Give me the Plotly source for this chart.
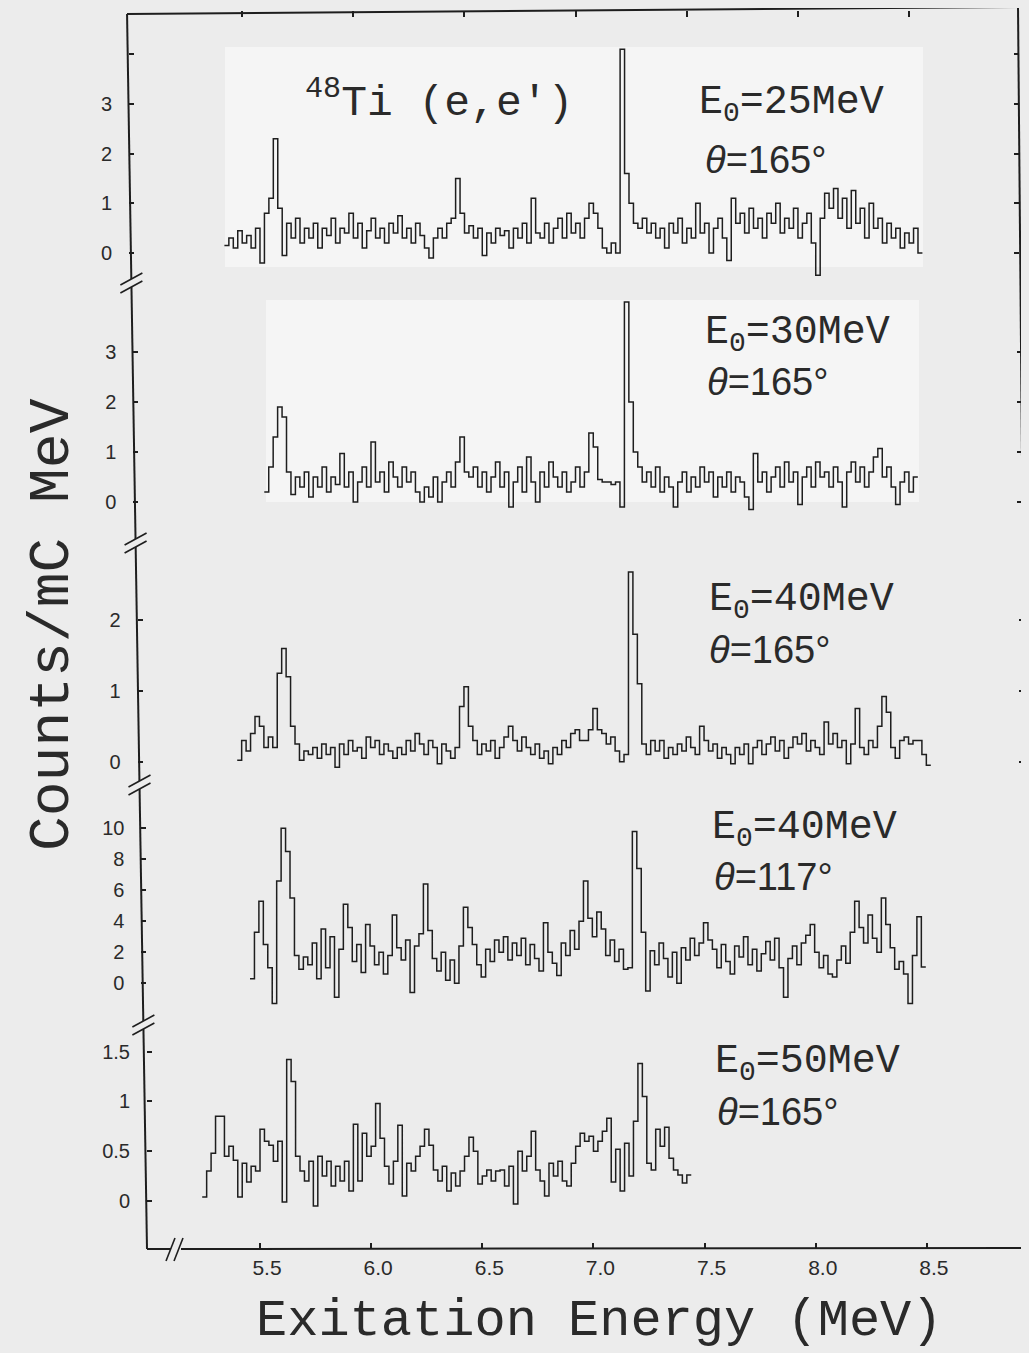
import plotly.graph_objects as go

# ------------------------------------------------------------------
# DATA  (48Ti(e,e') spectra, counts / mC MeV, bins of 0.02 MeV)
# ------------------------------------------------------------------
bin_width = 0.02

x_tick_vals = [5.5, 6.0, 6.5, 7.0, 7.5, 8.0, 8.5]
x_tick_text = ["5.5", "6.0", "6.5", "7.0", "7.5", "8.0", "8.5"]

start_25 = 5.42
counts_25 = [
    0.15, 0.3, 0.1, 0.45, 0.2, 0.35, 0.1, 0.5, -0.2, 0.8,
    1.1, 2.3, 0.9, -0.05, 0.6, 0.3, 0.7, 0.2, 0.5, 0.3,
    0.6, 0.1, 0.5, 0.35, 0.7, 0.2, 0.5, 0.4, 0.8, 0.3,
    0.6, 0.1, 0.45, 0.7, 0.3, 0.5, 0.2, 0.6, 0.4, 0.75,
    0.3, 0.5, 0.2, 0.6, 0.35, 0.1, -0.1, 0.3, 0.5, 0.3,
    0.6, 0.7, 1.5, 0.8, 0.4, 0.55, 0.3, 0.5, -0.05, 0.4,
    0.2, 0.5, 0.35, 0.45, 0.1, 0.5, 0.3, 0.6, 0.2, 1.1,
    0.4, 0.3, 0.6, 0.2, 0.5, 0.7, 0.3, 0.8, 0.4, 0.6,
    0.3, 0.7, 1.0, 0.8, 0.5, 0.1, 0.0, 0.2, 0.0, 4.1,
    1.6, 1.0, 0.6, 0.5, 0.7, 0.4, 0.6, 0.3, 0.5, 0.1,
    0.6, 0.4, 0.7, 0.2, 0.5, 0.3, 1.0, 0.4, 0.6, 0.0,
    0.5, 0.7, 0.3, -0.15, 1.1, 0.6, 0.8, 0.4, 0.9, 0.5,
    0.7, 0.3, 0.8, 0.6, 1.0, 0.4, 0.7, 0.5, 0.9, 0.3,
    0.6, 0.8, 0.2, -0.45, 0.7, 1.2, 0.9, 1.3, 0.7, 1.1,
    0.5, 1.26, 0.6, 0.9, 0.3, 1.0, 0.5, 0.7, 0.2, 0.6,
    0.3, 0.5, 0.1, 0.4, 0.2, 0.5, 0.0,
]

start_30 = 5.58
counts_30 = [
    0.2, 0.7, 1.3, 1.9, 1.7, 0.6, 0.15, 0.5, 0.3, 0.6,
    0.1, 0.5, 0.3, 0.7, 0.2, 0.5, 0.35, 0.97, 0.3, 0.6,
    0.0, 0.4, 0.7, 0.3, 1.2, 0.4, 0.6, 0.2, 0.8, 0.5,
    0.3, 0.7, 0.4, 0.6, 0.2, 0.0, 0.3, 0.1, 0.5, 0.0,
    0.4, 0.6, 0.3, 0.8, 1.3, 0.6, 0.5, 0.7, 0.3, 0.6,
    0.2, 0.5, 0.8, 0.3, 0.6, -0.1, 0.4, 0.7, 0.2, 0.9,
    0.4, 0.0, 0.6, 0.3, 0.8, 0.5, 0.3, 0.6, 0.2, 0.4,
    0.7, 0.3, 0.6, 1.38, 1.1, 0.45, 0.4, 0.4, 0.35, 0.4,
    -0.1, 4.0, 2.0, 1.0, 0.7, 0.4, 0.6, 0.3, 0.7, 0.2,
    0.5, 0.3, -0.1, 0.4, 0.6, 0.2, 0.5, 0.3, 0.7, 0.4,
    0.6, 0.1, 0.5, 0.3, 0.6, 0.2, 0.5, 0.4, 0.1, -0.15,
    0.97, 0.4, 0.6, 0.2, 0.5, 0.7, 0.3, 0.8, 0.4, 0.6,
    -0.05, 0.5, 0.7, 0.3, 0.8, 0.5, 0.6, 0.3, 0.7, 0.4,
    -0.1, 0.6, 0.8, 0.4, 0.7, 0.3, 0.6, 0.9, 1.07, 0.5,
    0.7, 0.3, -0.05, 0.4, 0.6, 0.2, 0.5,
]

start_40a = 5.44
counts_40a = [
    0.02, 0.3, 0.15, 0.4, 0.64, 0.5, 0.2, 0.35, 0.2, 1.25,
    1.6, 1.2, 0.5, 0.25, 0.02, 0.15, 0.1, 0.2, 0.05, 0.25,
    0.1, 0.2, -0.08, 0.25, 0.1, 0.3, 0.15, 0.2, 0.05, 0.35,
    0.2, 0.3, 0.1, 0.25, 0.15, 0.05, 0.2, 0.1, 0.3, 0.15,
    0.4, 0.25, 0.1, 0.3, 0.2, -0.03, 0.25, 0.15, 0.05, 0.2,
    0.78, 1.06, 0.5, 0.3, 0.1, 0.25, 0.15, 0.3, 0.05, 0.2,
    0.35, 0.5, 0.3, 0.15, 0.35, 0.2, 0.1, 0.25, 0.05, 0.15,
    -0.03, 0.2, 0.1, 0.3, 0.2, 0.4, 0.45, 0.3, 0.3, 0.45,
    0.75, 0.45, 0.4, 0.25, 0.35, 0.15, 0.0, 0.1, 2.68, 1.8,
    1.1, 0.25, 0.1, 0.3, 0.15, 0.3, 0.05, 0.2, 0.1, 0.25,
    0.15, 0.35, 0.2, 0.1, 0.5, 0.3, 0.15, 0.25, 0.05, 0.2,
    0.1, -0.03, 0.2, 0.1, 0.25, -0.03, 0.2, 0.3, 0.1, 0.25,
    0.35, 0.15, 0.3, 0.05, 0.2, 0.35, 0.25, 0.4, 0.15, 0.3,
    0.2, 0.1, 0.56, 0.25, 0.4, 0.2, 0.3, -0.03, 0.25, 0.75,
    0.2, 0.1, 0.3, 0.2, 0.5, 0.92, 0.7, 0.2, 0.05, 0.3,
    0.35, 0.25, 0.3, 0.3, 0.1, -0.05,
]

start_40b = 5.48
counts_40b = [
    0.3, 3.3, 5.3, 2.5, 1.0, -1.3, 6.6, 10.0, 8.5, 5.5,
    1.8, 0.9, 1.7, 1.2, 2.6, 0.3, 3.5, 1.0, 3.0, -0.9,
    2.2, 5.1, 3.6, 1.4, 2.5, 0.7, 3.8, 2.4, 1.2, 2.0,
    0.6, 1.8, 4.4, 2.3, 1.5, 2.8, -0.6, 2.4, 3.2, 6.4,
    3.4, 1.6, 0.8, 2.0, 0.2, 1.5, 0.0, 2.4, 4.9, 3.6,
    2.5, 1.2, 0.4, 2.2, 1.4, 2.8, 2.0, 3.0, 1.5, 2.6,
    1.8, 2.9, 1.2, 2.5, 1.6, 0.8, 3.9, 2.0, 1.3, 0.5,
    2.6, 1.8, 3.4, 2.2, 4.0, 6.6, 4.2, 3.0, 4.6, 3.5,
    1.8, 2.8, 1.4, 2.2, 0.9, 1.0, 9.8, 7.4, 3.3, -0.5,
    2.1, 1.2, 2.6, 1.6, 0.4, 2.0, 0.0, 2.3, 1.5, 2.9,
    1.8, 2.6, 3.9, 2.8, 2.2, 1.0, 2.5, 1.4, 0.6, 2.4,
    1.7, 3.0, 1.2, 2.2, 0.8, 1.9, 2.7, 1.5, 2.9, 1.0,
    -0.9, 1.6, 2.4, 1.2, 2.6, 3.1, 3.8, 2.0, 1.0, 1.8,
    0.6, 0.4, 1.5, 2.4, 1.3, 3.3, 5.3, 3.6, 2.6, 4.4,
    2.9, 2.0, 5.5, 3.8, 2.3, 0.9, 1.4, 0.6, -1.3, 1.8,
    4.3, 1.05,
]

start_50 = 5.24
counts_50 = [
    0.04, 0.3, 0.48, 0.85, 0.85, 0.45, 0.55, 0.41, 0.04, 0.38,
    0.19, 0.35, 0.3, 0.72, 0.6, 0.56, 0.4, 0.6, -0.01, 1.42,
    1.2, 0.45, 0.3, 0.2, 0.4, -0.05, 0.45, 0.25, 0.4, 0.15,
    0.35, 0.2, 0.4, 0.1, 0.77, 0.2, 0.68, 0.45, 0.55, 0.98,
    0.63, 0.35, 0.17, 0.4, 0.76, 0.05, 0.38, 0.3, 0.45, 0.55,
    0.72, 0.56, 0.31, 0.2, 0.35, 0.1, 0.28, 0.15, 0.3, 0.45,
    0.64, 0.5, 0.17, 0.25, 0.31, 0.2, 0.3, 0.31, 0.15, 0.35,
    -0.03, 0.5, 0.3, 0.45, 0.7, 0.31, 0.2, 0.05, 0.38, 0.25,
    0.4, 0.2, 0.15, 0.38, 0.55, 0.68, 0.6, 0.65, 0.5, 0.6,
    0.7, 0.83, 0.19, 0.52, 0.1, 0.58, 0.25, 0.8, 1.38, 1.05,
    0.38, 0.31, 0.72, 0.55, 0.74, 0.43, 0.31, 0.26, 0.18, 0.26,
]

beam_labels = ["E<sub>0</sub>=25MeV", "E<sub>0</sub>=30MeV", "E<sub>0</sub>=40MeV",
               "E<sub>0</sub>=40MeV", "E<sub>0</sub>=50MeV"]
angle_labels = ["<i>θ</i>=165°", "<i>θ</i>=165°", "<i>θ</i>=165°",
                "<i>θ</i>=117°", "<i>θ</i>=165°"]

y_ticks_25 = [0, 1, 2, 3, 4]
y_text_25 = ["0", "1", "2", "3", ""]
y_ticks_30 = [0, 1, 2, 3]
y_text_30 = ["0", "1", "2", "3"]
y_ticks_40a = [0, 1, 2]
y_text_40a = ["0", "1", "2"]
y_ticks_40b = [0, 2, 4, 6, 8, 10]
y_text_40b = ["0", "2", "4", "6", "8", "10"]
y_ticks_50 = [0, 0.5, 1, 1.5]
y_text_50 = ["0", "0.5", "1", "1.5"]

# ------------------------------------------------------------------
# LAYOUT GEOMETRY (pixel coordinates of the 1029 x 1353 page)
# The page body has an 8 px margin, so the figure starts at (8, 8).
# ------------------------------------------------------------------
PAGE_W, PAGE_H = 1029, 1353
BODY = 8
FIG_W, FIG_H = PAGE_W - BODY, PAGE_H - BODY
PLOT_L, PLOT_T, PLOT_R, PLOT_B = 127, 10, 1029, 1249   # page pixels
ML = PLOT_L - BODY
MT = PLOT_T - BODY
MR = FIG_W + BODY - PLOT_R
MB = FIG_H + BODY - PLOT_B
PW = PLOT_R - PLOT_L
PH = PLOT_B - PLOT_T
AX_Y = PLOT_B

BG = "#ececec"
INK = "#1e1e1e"
TXT = "#2a2a2a"
MONO = "Liberation Mono"
SANS = "Liberation Sans"


def fx(px):
    return (px - PLOT_L) / PW


def fy(py):
    return (AX_Y - py) / PH


def left_x(py):   # the scanned frame is slightly skewed
    return 127 + 20 * (py - 11) / 1238


def right_x(py):
    return 1018 + 11 * (py - 8) / 1241


PX_PER_MEV = 222.3
X_LEFT = 5.5 - 113 / PX_PER_MEV

# panel: data, start, top px, bottom px, zero px, px per unit, ticks, tick text,
#        x-mapping ref px, label x/y (beam), label x/y (angle)
panels = [
    (counts_25, start_25, 11, 283, 253.0, 49.7, y_ticks_25, y_text_25, 147, (697, 104), (703, 160)),
    (counts_30, start_30, 283, 543, 502.0, 50.0, y_ticks_30, y_text_30, 413, (703, 335), (705, 382)),
    (counts_40a, start_40a, 543, 785, 761.7, 70.8, y_ticks_40a, y_text_40a, 664, (707, 601), (707, 650)),
    (counts_40b, start_40b, 785, 1025, 983.3, 15.5, y_ticks_40b, y_text_40b, 905, (710, 829), (712, 877)),
    (counts_50, start_50, 1025, 1249, 1201.0, 99.6, y_ticks_50, y_text_50, 1249, (713, 1063), (715, 1112)),
]

fig = go.Figure()
layout_axes = {}
annotations = []

for i, (vals, start, top, bot, zero, ppu, tv, tt, yref_px, lab1, lab2) in enumerate(panels, start=1):
    xs = [round(start + bin_width * k, 4) for k in range(len(vals) + 1)]
    ys = list(vals) + [vals[-1]]
    fig.add_trace(go.Scatter(
        x=xs, y=ys, mode="lines",
        line=dict(shape="hv", color=INK, width=1.5),
        xaxis=f"x{i}", yaxis=f"y{i}", showlegend=False, hoverinfo="skip",
    ))

    L = left_x(yref_px)
    R = right_x(yref_px)
    xa = dict(
        domain=[max(0.0, fx(L)), min(1.0, fx(R))],
        range=[X_LEFT, 5.5 + (R - L - 113) / PX_PER_MEV],
        anchor=f"y{i}", showgrid=False, zeroline=False, showline=False,
        showticklabels=False, ticks="",
    )
    if i == 1:
        xa.update(side="top", ticks="inside", ticklen=6, tickwidth=1.5,
                  tickcolor=INK, tickvals=x_tick_vals)
    if i == 5:
        xa.update(ticks="inside", ticklen=6, tickwidth=1.5, tickcolor=INK,
                  tickvals=x_tick_vals, ticktext=x_tick_text, showticklabels=True,
                  tickfont=dict(family=SANS, size=21, color=TXT),
                  ticklabelshift=7, ticklabelstandoff=4)
    layout_axes[f"xaxis{i}"] = xa

    layout_axes[f"yaxis{i}"] = dict(
        domain=[fy(bot), fy(top)],
        range=[(zero - bot) / ppu, (zero - top) / ppu],
        anchor=f"x{i}", showgrid=False, zeroline=False, showline=False,
        ticks="inside", ticklen=5, tickwidth=1.5, tickcolor=INK, mirror="ticks",
        tickvals=tv, ticktext=tt,
        tickfont=dict(family=SANS, size=20, color=TXT),
        ticklabelstandoff=16,
    )

    annotations.append(dict(
        text=beam_labels[i - 1], xref="paper", yref="paper",
        x=fx(lab1[0]), y=fy(lab1[1]), xanchor="left", yanchor="middle",
        showarrow=False, font=dict(family=MONO, size=40, color=TXT),
    ))
    annotations.append(dict(
        text=angle_labels[i - 1], xref="paper", yref="paper",
        x=fx(lab2[0]), y=fy(lab2[1]), xanchor="left", yanchor="middle",
        showarrow=False, font=dict(family=SANS, size=38, color=TXT),
    ))

# title and axis titles
annotations.append(dict(
    text="<sup>48</sup>Ti (e,e')", xref="paper", yref="paper",
    x=fx(303), y=fy(100), xanchor="left", yanchor="middle", showarrow=False,
    font=dict(family=MONO, size=43, color=TXT),
))
annotations.append(dict(
    text="Counts/mC MeV", xref="paper", yref="paper", textangle=-90,
    x=fx(52), y=fy(625), xanchor="center", yanchor="middle", showarrow=False,
    font=dict(family=MONO, size=58, color=TXT),
))
annotations.append(dict(
    text="Exitation Energy (MeV)", xref="paper", yref="paper",
    x=fx(599), y=fy(1321), xanchor="center", yanchor="middle", showarrow=False,
    font=dict(family=MONO, size=52, color=TXT),
))

# ------------------------------------------------------------------
# FRAME with axis breaks
# ------------------------------------------------------------------
shapes = []


def seg(x0, y0, x1, y1, w=2.0):
    shapes.append(dict(type="line", xref="paper", yref="paper",
                       x0=fx(x0), y0=fy(y0), x1=fx(x1), y1=fy(y1),
                       line=dict(color=INK, width=w)))


# lighter pasted-in patches of the scan
for (a, b, c, d) in [(225, 47, 923, 267), (266, 300, 919, 502)]:
    shapes.append(dict(type="rect", xref="paper", yref="paper", layer="below",
                       x0=fx(a), y0=fy(b), x1=fx(c), y1=fy(d),
                       fillcolor="#f5f5f5", line=dict(width=0)))

breaks = [283, 543, 785, 1025]
ys_edges = [14]
for b in breaks:
    ys_edges += [b - 4, b + 4]
ys_edges.append(AX_Y)
for k in range(0, len(ys_edges), 2):
    y0, y1 = ys_edges[k], ys_edges[k + 1]
    seg(left_x(y0), y0, left_x(y1), y1)
for b in breaks:
    xc = left_x(b)
    for off in (-4, 4):
        seg(xc - 11, b + off + 6, xc + 11, b + off - 6, w=1.6)

seg(left_x(11), 14, 1018, 7)                 # top border
seg(1018, 7, right_x(AX_Y), AX_Y)            # right border
seg(left_x(AX_Y), AX_Y, 171, AX_Y)           # bottom axis with break
seg(181, AX_Y, 1029, AX_Y - 1)
seg(166, 1261, 175, 1238, w=1.6)
seg(174, 1261, 183, 1238, w=1.6)

fig.update_layout(
    width=FIG_W, height=FIG_H,
    margin=dict(l=ML, r=MR, t=MT, b=MB, pad=0),
    paper_bgcolor=BG, plot_bgcolor="rgba(0,0,0,0)",
    shapes=shapes, annotations=annotations,
    **layout_axes,
)

fig.write_html("out.html", post_script=f"document.body.style.backgroundColor='{BG}';")
